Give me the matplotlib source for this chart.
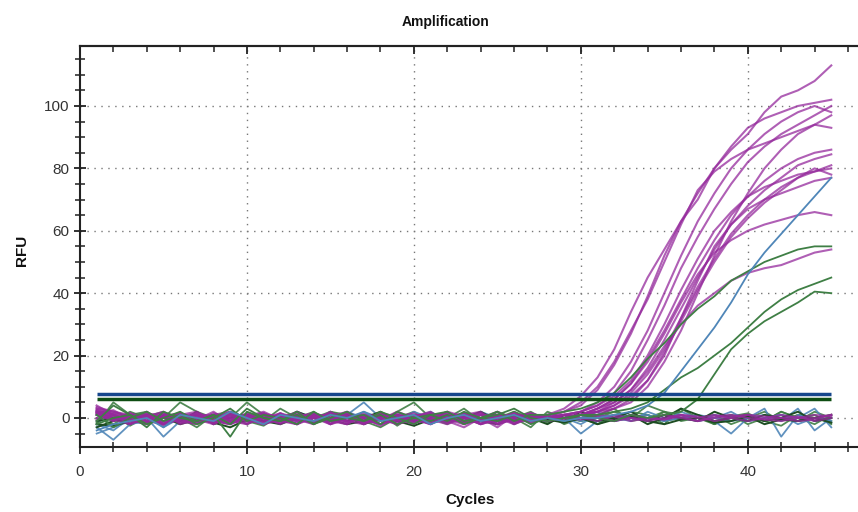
import numpy as np
import matplotlib
matplotlib.use("Agg")
from matplotlib import pyplot as plt
from matplotlib.ticker import MultipleLocator

plt.rcParams['font.family'] = ['Liberation Sans', 'DejaVu Sans']

cycles = list(range(1, 46))

# purple (amplifying)
purple_amp = [
    [2.5, 1, -1.5, 1, -2, 0.5, 1.5, -1, -2,
     0.5, 2, -0.5, -2, 1.5, 0, -1, -2, 1.5,
     0.5, -1.5, -0.5, 2, 0.5, -2, -0.5, 1.5, -1,
     1, 3, 7, 13, 22, 34, 45, 54, 63,
     70, 80, 87, 93, 96, 98, 100, 101, 102],
    [3.5, 2, 0.5, -1, 1.5, -2, -0.5, 1, 2,
     -1.5, 0, 1.5, -1, 0.5, -2, 1.5, 0, -2.5,
     0.5, 1.5, -1.5, -0.5, 1, 2, -2, 0, 1.5,
     0, 2, 4, 9, 17, 27, 39, 52, 63,
     72, 80, 86, 91, 98, 103, 105, 108, 113],
    [1.5, 2.5, -0.5, -2, 0.5, 1.5, -1.5, -0.5, 2,
     0, -2, -0.5, 1.5, -1.5, 0.5, 2, -1, 0,
     -2, 0.5, 1.5, -0.5, -2, 1, 0.5, -1.5, 0,
     0, 1, 2, 5, 10, 18, 28, 40, 52,
     63, 72, 80, 86, 91, 95, 98, 100, 98],
    [2, -1, 1.5, 0, -2.5, 0.5, -0.5, 2, -1.5,
     0.5, 1.5, -1, -2, 0, 1.5, 0.5, -1.5, -0.5,
     2, 0, -2, 1, 0.5, -0.5, -2, 0.5, 1.5,
     0, 1, 2, 4, 8, 15, 25, 36, 48,
     58, 67, 75, 82, 87, 91, 94, 97, 100],
    [3, 1, -0.5, 0.5, 2, -1.5, -1, 1.5, 0,
     -2, 0.5, -0.5, 2, -1, 0, 1.5, -0.5, -2,
     -0.5, 0.5, 2, -1.5, 0, 1.5, -1, 0.5, -1.5,
     1, 2, 5, 10, 18, 28, 38, 50, 62,
     73, 79, 83, 86, 88, 90, 92, 94, 93],
    [1, -0.5, -2, 1.5, 0.5, -1, -2, 1, 0.5,
     -0.5, -2, 1.5, 0, -1, 2, -1.5, 0.5, 1,
     -2, -0.5, 0.5, 1.5, -1.5, 0, 2, -0.5, -1,
     0, 0, 1, 3, 6, 11, 19, 28, 38,
     48, 57, 65, 71, 76, 80, 83, 85, 86],
    [2, 1.5, 0.5, -1, -2, 1, 0.5, -1.5, -0.5,
     1.5, 0, -2, 0.5, 1.5, -0.5, -2, 1, 0,
     -0.5, -2, 1.5, 0.5, -0.5, -1.5, 1, 0, -0.5,
     0, 1, 1, 3, 5, 9, 16, 25, 35,
     45, 54, 62, 68, 73, 77, 81, 83, 84.5],
    [0, 1.5, -0.5, -2, 0.5, 1, 2, -1, -2,
     0, -1, 1.5, -1.5, 0.5, -0.5, 1.5, -2, 0,
     1, -0.5, -2, 0.5, 1.5, 0, -1.5, -0.5, 1,
     -1, 0, 1, 2, 4, 8, 14, 22, 32,
     42, 51, 59, 65, 70, 74, 77, 79, 81],
    [1, -1, 1.5, -1.5, 0, -0.5, 1.5, -2, 0.5,
     1, -0.5, 0.5, -2, 1.5, 0, 0.5, -1.5, 1,
     0, 0.5, -1.5, -0.5, 1, -2, 0, 1.5, -0.5,
     0, 0, 1, 2, 3, 6, 12, 21, 31,
     41, 50, 58, 64, 69, 73, 77, 80, 78],
    [2.5, -0.5, 0, 1.5, -1.5, -0.5, 1, 0.5, -1,
     -2, 1, 0.5, -0.5, -1.5, 1.5, 0, 0.5, -2,
     1, -0.5, 0.5, -1.5, 1.5, -0.5, 0, -2, 0.5,
     0, 0, 1, 2, 4, 7, 12, 20, 32,
     44, 55, 62, 67, 70, 72, 74, 76, 77],
    [1, 0.5, -1, -1.5, 0, 1.5, -0.5, -2, 1,
     0.5, -0.5, -1.5, 1, 0, -2, -0.5, 1.5, 0,
     -1.5, 1, 0, 0.5, -2, -0.5, 1, 0, -1.5,
     0, 0, 1, 3, 6, 11, 18, 27, 37,
     46, 53, 57, 60, 62, 63.5, 65, 66, 65],
    [-0.5, 1, -2, 0.5, 1.5, -0.5, 0, -1.5, 1.5,
     0, -1.5, -0.5, 1, 0.5, -1, -2, 1, 0.5,
     -0.5, -1.5, 1, 0, 0.5, 1.5, -2, -0.5, 0,
     0, 0, 1, 2, 5, 9, 15, 23, 30,
     36, 40, 44, 46.5, 48, 49, 51, 53, 54],
    [1.5, -0.5, 0.5, 1, -2, -0.5, 1.5, 0, -1.5,
     -0.5, 1.5, 0, -0.5, -2, 1, 0.5, -1.5, -0.5,
     1.5, 0, -0.5, -2, 0, 1, 0.5, -1.5, 1,
     0, 0, 1, 1, 3, 5, 10, 18, 28,
     40, 52, 63, 72, 80, 86, 91, 94, 97],
    [2, 1, -0.5, 0.5, -1.5, 1.5, 0, -0.5, -2,
     1.5, 0.5, -1.5, 0, 1, -0.5, 0.5, -2, 1,
     0, -1.5, -0.5, 1.5, 0, -2, -0.5, 1, 0,
     0, 1, 2, 4, 7, 12, 20, 30, 41,
     51, 60, 66, 71, 74, 76, 78, 79, 80],
]

# purple (flat)
purple_flat = [
    [3, 2, 1, -0.5, 1, -0.5, -1.5, 0, 1.5,
     -0.5, -2, 0, 1, 0.5, -1.5, 1, -0.5, -2,
     0, 1, 0.5, -1, -3, 0, 1, -2, 0,
     -1, 0, 1, 0.5, -1, 0, -0.5, 1, 0,
     -1, 0.5, 1, 0, -0.5, -1, 0, 1, 0.5],
    [2, -0.5, 1, -1.5, 0.5, 1.5, -1, 0, -0.5,
     1, -1.5, 0.5, 0, 1.5, -2, 0, 1, -0.5,
     -2, 0.5, 1.5, 0, -1.5, -0.5, 1, -1, 0.5,
     1, 0, -0.5, 1, 0.5, -1, 0, -0.5, 1,
     0.5, -1, 0, 1, 0.5, 0, -1, -0.5, 1],
    [4, 1, -1, 2, -2, 0, 1, -1, 0,
     -1, 1, 0, -2, 1, 0, -1, 0, 1,
     -1, 0, -2, 1, -1, 0, -3, 1, 0,
     0, 1, 0, -1, 1, 0, -1, 0, 1,
     0, 1, 0, -1, 0, 1, 0, 0, 1],
    [1.5, 0.5, -2, 0, 1, -1.5, 0.5, 1, -1,
     0, 1.5, -1, -0.5, 0, 1, -1.5, 0.5, 0,
     1, -1, 0, -0.5, 1.5, -1, 0.5, 0, -1,
     0.5, -0.5, 0, 0.5, -1, 1, 0, -0.5, 0.5,
     -1, 0, 0.5, 1, -0.5, 0, 0.5, -1, 0],
]

# green (amplifying)
green_amp = [
    [-1, 4, 1, -2, 0, 2, -1, 1, -2,
     3, 0, -1, 2, -2, 1, 0, -1, 2,
     0, -2, 1, 2, -1, 0, 2, -1, 1,
     1, 2, 3, 5, 8, 13, 19, 24, 30,
     35, 39, 44, 47, 50, 52, 54, 55, 55],
    [1, -3, 0, 2, -1, 1, -2, 0, 3,
     -1, 1, 0, -2, 2, -1, 0, 1, -2,
     2, 0, -1, 1, -2, 0, 1, 3, 0,
     -1, 0, 1, 1, 2, 3, 5, 9, 13,
     16, 20, 24, 29, 34, 38, 41, 43, 45],
    [-2, 0, 1, -3, 2, 0, -1, 1, -6,
     2, 0, -1, 1, -2, 0, 2, -1, 1,
     -2, 0, 1, -1, 2, 0, -1, 1, -2,
     0, -1, 1, 0, -1, 1, 0, 1, 2,
     6, 14, 22, 27, 31, 34, 37, 40.5, 40],
]

# green (flat)
green_flat = [
    [-2, 5, 1, -1, 0, 5, 2, 0, -1,
     1, -2, 0, 2, -1, 1, 0, -2, 1,
     0, 2, -1, 1, 0, -2, 1, 0, 2,
     -1, 0, 1, -2, 0, 2, 1, -1, 0,
     1, -2, 0, 1, -1, 2, 0, -2, 1],
    [0, -2, 1, 2, -1, 0, -3, 1, 0,
     5, 1, -1, 0, 2, -2, 1, 0, -1,
     2, 5, 0, -2, 1, 0, -1, 2, 0,
     1, -2, 0, 1, -1, 0, 4, 2, -1,
     0, 1, -2, 0, 2, -1, 1, 0, -1],
    [1, -1, 2, 0, -2, 1, 0, -1, 2,
     0, -1, 3, 0, -2, 2, 1, -1, -3,
     0, 1, -1, 0, 3, -1, 2, 0, -3,
     2, 0, -1, 1, 3, -1, 0, 2, 1,
     -1, 0, 1, -2, 0, 1, -1, 2, 0],
    [2, 0, -1, 1, 0, -2, 1, 0, 1,
     -2, 0, 1, -1, 0, 2, -1, 0, 1,
     -2, 0, 1, 0, -1, 1, 0, 2, -1,
     0, 1, -1, 0, 2, 0, 1, -2, 3,
     0, -2, 1, 0, -1, 2, 0, 1, -2],
    [-1.5, 1, -2.5, 0.5, 2, -1, -2, 0.5, 1.5,
     -1, -2.5, 1, 0.5, -1.5, 2, 0, -1, 1.5,
     -2.5, 1, 0, -1.5, 1, -0.5, 2, -2, 0.5,
     -1.5, 1, 0, -2, 1, 0.5, -1, 2, -0.5,
     1, -2, 0.5, 1.5, -1, -2.5, 1, 0, -1.5],
]

# dark green (flat)
dkgreen_flat = [
    [-1, 0, -2, 1, 0, -1, 2, -2, 0,
     -1, 1, 0, -2, 1, 0, -1, 0, 2,
     -1, 0, 1, -1, 0, 2, -1, 0, 1,
     0, -1, 2, 0, -1, 1, -2, 0, 3,
     1, -1, 0, 1, -1, 0, 2, -1, 0],
    [-3, -1, 0, 1, -2, 0, 1, -1, 0,
     1, 0, -1, 2, 0, -1, 1, -2, 0,
     1, -1, 0, 2, -1, 0, 1, -1, 0,
     -2, 1, 0, -1, 0, 2, -1, 1, 0,
     -1, 2, 0, -1, 1, 0, -1, 0, 1],
    [-2, -2.5, -1, -1.5, 0.5, -2, -0.5, -1.5, -3,
     -0.5, -1, -2, 0, -1.5, -0.5, -2, -1, 0.5,
     -1, -2.5, -0.5, 0, -1.5, -1, -2, 0, -1,
     -0.5, -1.5, 0, -2, -0.5, 0.5, -1, -2, -0.5,
     0, -1.5, -1, 0.5, -2, -0.5, -1, 0, -1.5],
]

# blue
blue_amp = [
    [-4, -2, -1, 0, -3, 1, 0, -1, 2,
     0, -2, 1, 0, -1, 1, 0, 2, -1,
     0, 1, -2, 0, 1, -1, 0, 1, -1,
     0, -1, 0, 0, 1, 2, 4, 8, 15,
     22, 29, 37, 46, 53, 59, 65, 71, 77],
]
blue_flat = [
    [-3, -7, -2, 0, -6, -1, 1, 0, -2,
     1, 0, -1, 2, 0, -1, 1, 5, 0,
     -1, 2, 0, -1, 1, 0, -2, 1, 0,
     -1, 0, -2, 1, 0, -1, 2, 0, 1,
     -1, 0, 2, -1, 0, 1, -2, 0, -1],
    [-5, -3, -1, -2, 0, -1, 1, -2, 0,
     1, -1, 0, 1, -1, 0, 2, 0, -1,
     1, 0, 2, -1, 0, 1, -2, 0, 1,
     -1, 0, -5, -1, 0, 1, 0, -1, 2,
     0, -1, -5, 0, 3, -6, 1, -1, 0],
    [-2, -4, 0, 1, -3, 0, -1, 1, 0,
     -1, 1, 0, -1, 0, 1, -1, 2, 0,
     -1, 0, 1, 0, -1, 2, 0, -1, 0,
     1, -1, 0, 2, -1, 0, 1, -1, 0,
     1, 0, -1, 0, 1, -1, 3, -4, 0],
    [-1, 0, -2, -1, 1, 0, -1, 0, 2,
     0, -1, 1, 0, -1, 1, 0, -1, 1,
     0, -1, 0, 1, 0, -1, 1, 0, -1,
     0, 1, -1, 0, 1, 0, -1, 1, 0,
     -1, 1, 0, -1, 0, 1, 0, 3, -3],
]

thresholds = [7.7, 6.1]
threshold_colors = ['#16468c', '#0e4d12']

fig = plt.figure(figsize=(8.58, 5.12), dpi=100)
ax = fig.add_axes([0.0932, 0.127, 0.9068, 0.783])

for y in green_flat:
    ax.plot(cycles, y, color='#3f7f45', lw=1.3, alpha=0.9)
for y in blue_flat:
    ax.plot(cycles, y, color='#4f86b8', lw=1.3, alpha=0.9)
for y in dkgreen_flat:
    ax.plot(cycles, y, color='#1d4d22', lw=1.4)
for y in purple_flat + purple_amp:
    ax.plot(cycles, y, color='#952a9c', lw=1.5, alpha=0.75)
for y in green_amp:
    ax.plot(cycles, y, color='#3f7f45', lw=1.3)
for y in blue_amp:
    ax.plot(cycles, y, color='#4f86b8', lw=1.3)

for t, c in zip(thresholds, threshold_colors):
    ax.hlines(t, cycles[0], cycles[-1], color=c, lw=2.5)

ax.set_xlim(0, 46.6)
ax.set_ylim(-9.3, 119.2)
ax.xaxis.set_major_locator(MultipleLocator(10))
ax.xaxis.set_minor_locator(MultipleLocator(2))
ax.yaxis.set_major_locator(MultipleLocator(20))
ax.yaxis.set_minor_locator(MultipleLocator(5))

for s in ['left', 'top', 'bottom']:
    ax.spines[s].set_linewidth(1.5)
    ax.spines[s].set_color('#222222')
ax.spines['right'].set_visible(False)

ax.tick_params(axis='x', which='both', direction='inout', colors='#222222',
               labelcolor='#333333', labelsize=11, pad=8)
ax.tick_params(axis='x', which='major', length=10, width=1.3)
ax.tick_params(axis='x', which='minor', length=7, width=1.1)
ax.tick_params(axis='y', which='both', direction='inout', colors='#222222',
               labelcolor='#333333', labelsize=11)
ax.tick_params(axis='y', which='major', length=8, width=1.3)
ax.tick_params(axis='y', which='minor', length=7, width=1.1)

top = ax.secondary_xaxis('top')
top.xaxis.set_major_locator(MultipleLocator(10))
top.xaxis.set_minor_locator(MultipleLocator(2))
top.tick_params(which='both', direction='in', labeltop=False, colors='#222222')
top.tick_params(which='major', length=6, width=1.3)
top.tick_params(which='minor', length=4, width=1.1)
top.spines['top'].set_linewidth(1.5)
top.spines['top'].set_color('#222222')

for xv in [10, 20, 30, 40]:
    ax.axvline(xv, color='#777777', lw=1, ls=(0, (1, 4)), zorder=0)
for yv in [0, 20, 40, 60, 80, 100]:
    ax.axhline(yv, color='#777777', lw=1, ls=(0, (1, 4)), zorder=0)

fig.text(0.519, 1 - 22 / 512, 'Amplification', ha='center', va='center',
         fontsize=10, fontweight='bold', color='#111111')
fig.text(0.548, 1 - 500 / 512, 'Cycles', ha='center', va='center',
         fontsize=11, fontweight='bold', color='#111111')
fig.text(22 / 858, 1 - 250 / 512, 'RFU', ha='center', va='center', rotation=90,
         fontsize=11, fontweight='bold', color='#111111')

fig.savefig('out.png', dpi=100)
